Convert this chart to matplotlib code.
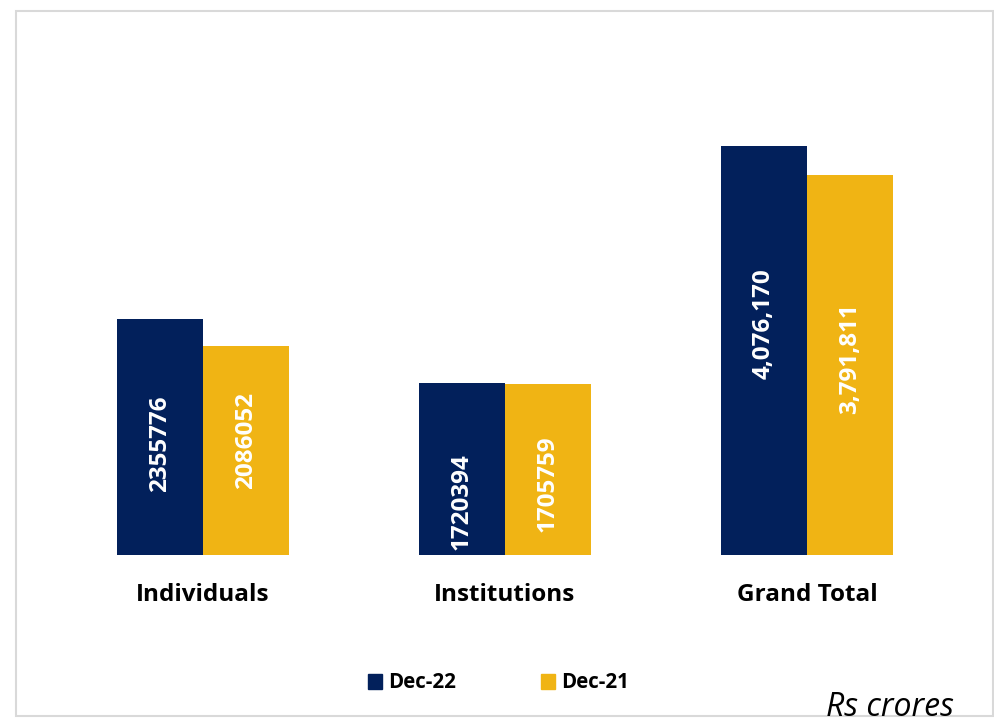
import matplotlib
matplotlib.use('Agg')
import matplotlib.pyplot as plt
from matplotlib.patches import Rectangle
import numpy as np

plt.rcParams['font.family'] = ['Open Sans', 'DejaVu Sans']

# ── data ──────────────────────────────────────────────────────────────────────
categories = ['Individuals', 'Institutions', 'Grand Total']
dec22 = [2355776, 1720394, 4076170]
dec21 = [2086052, 1705759, 3791811]
dec22_labels = ['2355776', '1720394', '4,076,170']
dec21_labels = ['2086052', '1705759', '3,791,811']
# where the label sits, as a fraction of the bar height (labels were hand-placed)
dec22_pos = [0.47, 0.31, 0.567]
dec21_pos = [0.55, 0.415, 0.517]

NAVY = '#02205B'
GOLD = '#F0B414'

W, H = 995, 718
fig = plt.figure(figsize=(W / 100, H / 100), dpi=100)

# frame round the whole chart
fig.patches.append(Rectangle((16 / W, 2 / H), (993 - 16) / W, 705 / H,
                             transform=fig.transFigure, fill=False,
                             edgecolor='#D9D9D9', linewidth=1.5))

ax = fig.add_axes([52 / W, 163 / H, 906 / W, 451 / H])
x = np.arange(len(categories))
bw = 0.285
ax.bar(x - bw / 2, dec22, bw, color=NAVY, label='Dec-22')
ax.bar(x + bw / 2, dec21, bw, color=GOLD, label='Dec-21')
ax.set_xlim(-0.5, 2.5)
ax.set_ylim(0, 4.5e6)
ax.axis('off')

for i in range(len(categories)):
    ax.text(x[i] - bw / 2, dec22[i] * dec22_pos[i], dec22_labels[i], rotation=90,
            ha='center', va='center', color='white', fontsize=17.5, fontweight='bold')
    ax.text(x[i] + bw / 2, dec21[i] * dec21_pos[i], dec21_labels[i], rotation=90,
            ha='center', va='center', color='white', fontsize=17.5, fontweight='bold')
    ax.text(x[i], -0.4e6, categories[i], ha='center', va='center',
            fontsize=17.5, fontweight='bold', color='black')

# legend, drawn by hand to match the square markers
for xs, col, lab in [(368, NAVY, 'Dec-22'), (541, GOLD, 'Dec-21')]:
    fig.patches.append(Rectangle((xs / W, 1 - 689 / H), 14 / W, 15 / H,
                                 transform=fig.transFigure, color=col))
    fig.text((xs + 20) / W, 1 - 682 / H, lab, ha='left', va='center',
             fontsize=14.8, fontweight='bold')

fig.text(826 / W, 1 - 691 / H, 'Rs crores', ha='left', va='top',
         fontsize=23, fontstyle='italic')

plt.savefig('out.png', dpi=100)
plt.close()
